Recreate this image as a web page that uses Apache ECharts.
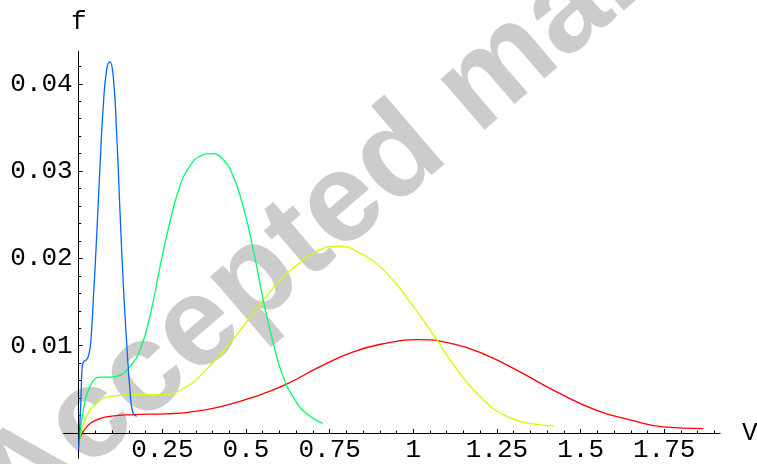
<!DOCTYPE html>
<html><head><meta charset="utf-8">
<script src="https://cdn.jsdelivr.net/npm/echarts@6/dist/echarts.min.js"></script>
<style>html,body{margin:0;padding:0;background:#fff}#c{width:757px;height:464px}</style>
</head><body><div id="c"></div>
<script>
// Tick values
const xMajorTicks = [0.25, 0.5, 0.75, 1, 1.25, 1.5, 1.75];
const xMinorTicks = [0.05,0.1,0.15,0.2,0.3,0.35,0.4,0.45,0.55,0.6,0.65,0.7,0.8,0.85,0.9,0.95,1.05,1.1,1.15,1.2,1.3,1.35,1.4,1.45,1.55,1.6,1.65,1.7,1.8,1.85,1.9];
const yMajorTicks = [0.01, 0.02, 0.03, 0.04];
const yMinorTicks = [0.002,0.004,0.006,0.008,0.012,0.014,0.016,0.018,0.022,0.024,0.026,0.028,0.032,0.034,0.036,0.038,0.042];

// Series data (V, f)
const blueV = [0, 0.0069, 0.0099, 0.0138, 0.0239, 0.0299, 0.0359, 0.0437, 0.0538, 0.0637, 0.0735, 0.0837, 0.0935, 0.1034, 0.1136, 0.1234, 0.1333, 0.1435, 0.1533, 0.1614, 0.1733];
const blueF = [-0.0019, 0.0038, 0.0072, 0.0081, 0.0084, 0.0089, 0.0103, 0.0152, 0.0225, 0.0305, 0.0374, 0.0416, 0.0425, 0.0408, 0.0343, 0.0255, 0.0171, 0.0103, 0.0049, 0.0024, 0.0019];

const greenV = [0.003, 0.0137, 0.0338, 0.0637, 0.0935, 0.1234, 0.1533, 0.1832, 0.2131, 0.2430, 0.2729, 0.3028, 0.3327, 0.3625, 0.3975, 0.4322, 0.4620, 0.4919, 0.5218, 0.5517, 0.5816, 0.6115, 0.6464, 0.6814, 0.7292];
const greenF = [-0.0006, 0.0026, 0.0053, 0.0064, 0.0064, 0.0066, 0.0076, 0.0095, 0.0134, 0.0190, 0.0242, 0.0283, 0.0306, 0.0317, 0.0320, 0.0313, 0.0294, 0.0259, 0.0210, 0.0152, 0.0103, 0.0064, 0.0038, 0.0022, 0.0011];

const yellowV = [0.003, 0.0239, 0.0538, 0.0935, 0.1632, 0.2430, 0.3126, 0.3825, 0.4611, 0.5418, 0.6016, 0.6515, 0.7113, 0.7711, 0.8407, 0.9205, 1.0000, 1.0699, 1.1396, 1.2092, 1.2791, 1.3488, 1.4184];
const yellowF = [-0.0006, 0.0019, 0.0034, 0.0042, 0.0044, 0.0044, 0.0051, 0.0073, 0.0107, 0.0147, 0.0175, 0.0192, 0.0208, 0.0214, 0.0206, 0.0183, 0.0145, 0.0107, 0.0068, 0.0038, 0.0019, 0.0011, 0.0008];

const redV = [0.003, 0.0239, 0.0538, 0.0935, 0.1632, 0.2630, 0.3326, 0.4223, 0.5218, 0.6216, 0.7212, 0.8207, 0.9205, 1.0102, 1.1196, 1.2194, 1.3189, 1.4286, 1.5481, 1.6477, 1.7472, 1.8667];
const redF = [-0.0006, 0.0007, 0.0015, 0.0019, 0.0021, 0.0022, 0.0024, 0.0030, 0.0041, 0.0056, 0.0076, 0.0093, 0.0103, 0.0107, 0.0102, 0.0089, 0.0070, 0.0047, 0.0026, 0.0015, 0.0007, 0.0005];

const seriesDefs = [
  { name: 'red', v: redV, f: redF, color: '#ff0000' },
  { name: 'yellow', v: yellowV, f: yellowF, color: '#ccff00' },
  { name: 'green', v: greenV, f: greenF, color: '#00ff66' },
  { name: 'blue', v: blueV, f: blueF, color: '#0066ff' }
];

const X_MIN = -0.045, X_MAX = 1.917, Y_MIN = -0.0029, Y_MAX = 0.0437;
const MONO = '"Liberation Mono", "Courier New", monospace';
const INK = '#000000';

const chart = echarts.init(document.getElementById('c'), null, { renderer: 'canvas' });
const option = {
  animation: false,
  backgroundColor: '#ffffff',
  grid: [
    // full plot range (axis lines through zero)
    { left: 63.6, right: 36.9, top: 51.5, bottom: 5.7, containLabel: false, outerBoundsMode: 'none' },
    // positive quadrant: ticks, labels, names sit on the zero lines
    { left: 78.7, right: 36.9, top: 51.5, bottom: 31, containLabel: false, outerBoundsMode: 'none' }
  ],
  graphic: [{
    type: 'text', x: -6, y: 504, rotation: 40.6 * Math.PI / 180, z: -10, silent: true,
    style: { text: 'Accepted manuscript', font: 'bold 127px "Liberation Sans", Arial, sans-serif', fill: '#cccccc', align: 'left', verticalAlign: 'middle' }
  }],
  xAxis: [{
    gridIndex: 0, type: 'value', min: X_MIN, max: X_MAX, position: 'bottom',
    axisLine: { show: true, onZero: true, lineStyle: { color: INK, width: 1 } },
    axisTick: { show: false }, axisLabel: { show: false }, splitLine: { show: false }
  }, {
    gridIndex: 1, type: 'value', min: 0, max: X_MAX, position: 'bottom',
    name: 'V', nameLocation: 'end', nameGap: 22,
    nameTextStyle: { fontFamily: MONO, fontSize: 26, color: INK, verticalAlign: 'middle', padding: [10, 0, 0, 0] },
    axisLine: { show: false, onZero: false },
    axisTick: { inside: true, length: 4, customValues: xMajorTicks, lineStyle: { color: INK, width: 1 } },
    axisLabel: { customValues: xMajorTicks, fontFamily: MONO, fontSize: 26, color: INK, margin: 4 },
    splitLine: { show: false }
  }, {
    gridIndex: 1, type: 'value', min: 0, max: X_MAX, position: 'bottom',
    axisLine: { show: false, onZero: false },
    axisTick: { inside: true, length: 2.5, customValues: xMinorTicks, lineStyle: { color: INK, width: 1 } },
    axisLabel: { show: false }, splitLine: { show: false }
  }],
  yAxis: [{
    gridIndex: 0, type: 'value', min: Y_MIN, max: Y_MAX, position: 'left',
    axisLine: { show: true, onZero: true, lineStyle: { color: INK, width: 1 } },
    axisTick: { show: false }, axisLabel: { show: false }, splitLine: { show: false }
  }, {
    gridIndex: 1, type: 'value', min: 0, max: Y_MAX, position: 'left',
    name: 'f', nameLocation: 'end', nameGap: 16,
    nameTextStyle: { fontFamily: MONO, fontSize: 26, color: INK },
    axisLine: { show: false, onZero: false },
    axisTick: { inside: true, length: 4, customValues: yMajorTicks, lineStyle: { color: INK, width: 1 } },
    axisLabel: { customValues: yMajorTicks, fontFamily: MONO, fontSize: 26, color: INK, margin: 6 },
    splitLine: { show: false }
  }, {
    gridIndex: 1, type: 'value', min: 0, max: Y_MAX, position: 'left',
    axisLine: { show: false, onZero: false },
    axisTick: { inside: true, length: 2.5, customValues: yMinorTicks, lineStyle: { color: INK, width: 1 } },
    axisLabel: { show: false }, splitLine: { show: false }
  }],
  series: seriesDefs.map(s => ({
    name: s.name, type: 'line', xAxisIndex: 0, yAxisIndex: 0,
    data: s.v.map((v, i) => [v, s.f[i]]),
    showSymbol: false, smooth: 0.5, z: 3,
    lineStyle: { color: s.color, width: 1.3 },
    itemStyle: { color: s.color }
  }))
};
chart.setOption(option);
</script>
</body></html>
